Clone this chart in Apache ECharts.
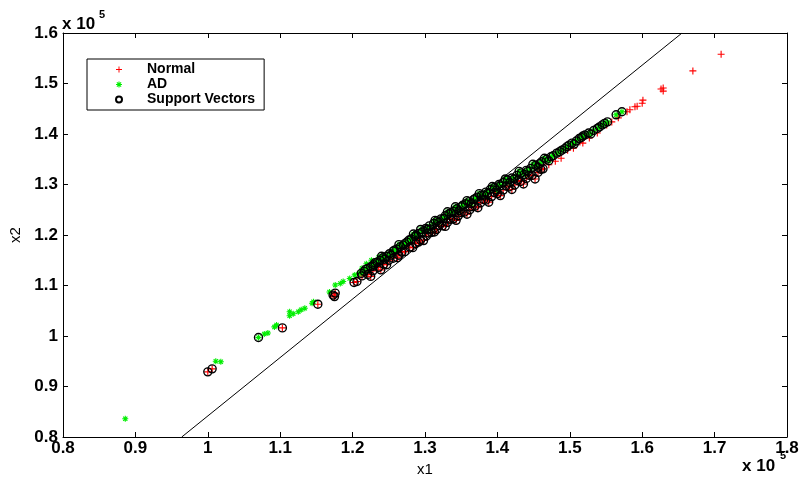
<!DOCTYPE html>
<html>
<head>
<meta charset="utf-8">
<script src="https://cdn.jsdelivr.net/npm/echarts@6/dist/echarts.min.js"></script>
<style>
  html, body { margin: 0; padding: 0; background: #fff; }
  #chart { width: 802px; height: 482px; }
</style>
</head>
<body>
<div id="chart"></div>
<script>
// Coordinates are in units of 10^5 (x1, x2).

// Normal samples that are support vectors
const normalSV = [
  [1.000,0.929],[1.006,0.935],[1.103,1.016],[1.152,1.063],[1.173,1.081],[1.176,1.085],
  [1.175,1.078],[1.202,1.106],[1.206,1.108],[1.213,1.119],
  [1.221,1.122],[1.228,1.129],[1.236,1.136],[1.243,1.142],[1.250,1.150],[1.256,1.154],
  [1.264,1.160],[1.272,1.167],[1.279,1.176],[1.287,1.183],[1.294,1.190],[1.302,1.198],
  [1.309,1.205],[1.316,1.211],[1.324,1.218],[1.331,1.225],[1.339,1.232],[1.346,1.238],
  [1.354,1.245],[1.362,1.250],[1.369,1.257],[1.377,1.264],[1.384,1.269],[1.392,1.276],
  [1.400,1.282],[1.408,1.289],[1.416,1.295],[1.424,1.299],[1.432,1.306],[1.440,1.312],
  [1.448,1.318],[1.456,1.324],[1.463,1.331],
  [1.225,1.118],[1.239,1.131],[1.247,1.141],[1.262,1.155],[1.268,1.166],[1.283,1.175],
  [1.291,1.186],[1.298,1.189],[1.305,1.204],[1.313,1.206],[1.320,1.219],[1.328,1.217],
  [1.335,1.231],[1.343,1.229],[1.350,1.244],[1.358,1.241],[1.365,1.256],[1.373,1.254],
  [1.381,1.270],[1.388,1.265],[1.396,1.284],[1.404,1.278],[1.412,1.297],[1.420,1.290],
  [1.428,1.308],[1.436,1.301],[1.444,1.318],[1.452,1.311],[1.460,1.330]
];

// Remaining Normal samples
const normalOther = [
  [1.471,1.339],[1.480,1.346],[1.488,1.352],[1.497,1.368],[1.505,1.372],[1.514,1.384],
  [1.518,1.382],[1.527,1.392],[1.538,1.402],[1.551,1.418],[1.558,1.424],[1.567,1.432],
  [1.579,1.444],[1.583,1.448],[1.590,1.454],[1.593,1.455],[1.600,1.461],[1.601,1.467],
  [1.626,1.489],[1.629,1.491],[1.629,1.485],[1.670,1.525],[1.709,1.558]
];

// AD samples that are support vectors
const adSV = [
  [1.070,0.997],
  [1.212,1.124],[1.216,1.128],[1.221,1.134],[1.225,1.137],[1.229,1.141],[1.234,1.146],
  [1.238,1.150],[1.242,1.155],[1.247,1.158],[1.251,1.163],[1.256,1.168],[1.261,1.172],
  [1.266,1.177],[1.270,1.180],[1.275,1.186],[1.281,1.192],[1.286,1.197],[1.291,1.203],
  [1.296,1.206],[1.301,1.213],[1.306,1.218],[1.312,1.223],[1.317,1.228],[1.322,1.232],
  [1.328,1.238],[1.333,1.242],[1.339,1.247],[1.344,1.252],[1.350,1.256],[1.356,1.262],
  [1.361,1.266],[1.367,1.270],[1.372,1.275],[1.378,1.279],[1.384,1.285],[1.390,1.290],
  [1.396,1.294],[1.402,1.300],[1.408,1.304],[1.414,1.309],[1.420,1.313],[1.427,1.318],
  [1.433,1.323],[1.440,1.328],[1.446,1.332],[1.453,1.338],[1.461,1.345],[1.468,1.350],
  [1.474,1.355],[1.482,1.362],[1.489,1.368],[1.496,1.375],[1.503,1.382],[1.509,1.386],
  [1.516,1.393],[1.521,1.398],[1.526,1.402],[1.533,1.407],[1.538,1.411],[1.545,1.418],
  [1.552,1.424],[1.564,1.438],[1.572,1.444],
  [1.218,1.132],[1.231,1.145],[1.244,1.152],[1.258,1.170],[1.272,1.183],[1.288,1.200],
  [1.303,1.211],[1.319,1.225],[1.336,1.244],[1.352,1.259],[1.369,1.272],[1.386,1.282],
  [1.404,1.297],[1.423,1.311],[1.442,1.326],[1.458,1.341],[1.477,1.357],[1.499,1.378],
  [1.518,1.396],[1.541,1.414],[1.548,1.421],
  [1.228,1.138],[1.240,1.158],[1.253,1.160],[1.264,1.181],[1.278,1.190],[1.284,1.202],
  [1.294,1.211],[1.308,1.212],[1.314,1.229],[1.326,1.233],[1.331,1.246],[1.342,1.256],
  [1.347,1.248],[1.358,1.268],[1.364,1.262],[1.375,1.282],[1.381,1.279],[1.393,1.296],
  [1.399,1.289],[1.411,1.311],[1.417,1.304],[1.430,1.326],[1.437,1.320],[1.449,1.340],
  [1.456,1.334],[1.465,1.352],[1.471,1.347],[1.486,1.365],[1.493,1.371],[1.506,1.380],
  [1.513,1.391],[1.529,1.400]
];

// Remaining AD samples
const adOther = [
  [0.886,0.836],[1.011,0.950],[1.018,0.949],[1.078,1.004],[1.083,1.006],[1.092,1.018],
  [1.095,1.022],[1.113,1.040],[1.113,1.048],[1.118,1.044],[1.125,1.048],[1.129,1.052],
  [1.134,1.055],[1.144,1.065],[1.146,1.068],[1.168,1.087],[1.176,1.101],[1.183,1.104],
  [1.187,1.108],[1.196,1.114],[1.203,1.121],[1.209,1.125],[1.213,1.134],[1.219,1.143],
  [1.226,1.150],[1.236,1.156]
];

// Separating line end points
const boundaryX = [0.964, 1.655];
const boundaryY = [0.8, 1.6];

// Axis ranges
const xRange = [0.8, 1.8];
const yRange = [0.8, 1.6];
const tickStep = 0.1;

const PLUS = 'path://M-0.16,-1H0.16V-0.16H1V0.16H0.16V1H-0.16V0.16H-1V-0.16H-0.16Z';
const STAR = 'path://M-0.18,-1H0.18V-0.18H1V0.18H0.18V1H-0.18V0.18H-1V-0.18H-0.18Z' +
  'M-0.83,-0.58L-0.58,-0.83L0,-0.25L0.58,-0.83L0.83,-0.58L0.25,0L0.83,0.58L0.58,0.83L0,0.25L-0.58,0.83L-0.83,0.58L-0.25,0Z';

const FONT = '"Liberation Sans", Arial, Helvetica, sans-serif';
const fmt = v => String(Math.round(v * 10) / 10);

const tickAxis = (extra) => Object.assign({
  type: 'value',
  interval: tickStep,
  axisLine: { show: true, onZero: false, lineStyle: { color: '#000', width: 1 } },
  axisTick: { show: true, inside: true, length: 5, lineStyle: { color: '#000' } },
  splitLine: { show: false }
}, extra);

const chart = echarts.init(document.getElementById('chart'), null, { renderer: 'canvas' });

chart.setOption({
  animation: false,
  backgroundColor: '#fff',
  grid: { left: 63, right: 15, top: 33, bottom: 45 },
  legend: {
    orient: 'vertical',
    left: 87,
    top: 59,
    padding: [3, 9, 3, 28],
    itemWidth: 46,
    itemHeight: 6,
    itemGap: 0,
    backgroundColor: '#fff',
    borderColor: '#000',
    borderWidth: 1,
    borderRadius: 0,
    textStyle: { fontFamily: FONT, fontWeight: 'bold', fontSize: 14, color: '#000', lineHeight: 15 },
    data: ['Normal', 'AD', 'Support Vectors']
  },
  xAxis: [
    tickAxis({
      position: 'bottom', min: xRange[0], max: xRange[1],
      name: 'x1', nameLocation: 'middle', nameGap: 22,
      nameTextStyle: { fontFamily: FONT, fontSize: 15, color: '#000' },
      axisLabel: { margin: 3, formatter: fmt, fontFamily: FONT, fontWeight: 'bold', fontSize: 17, color: '#000' }
    }),
    tickAxis({ position: 'top', min: xRange[0], max: xRange[1], axisLabel: { show: false } })
  ],
  yAxis: [
    tickAxis({
      position: 'left', min: yRange[0], max: yRange[1],
      name: 'x2', nameLocation: 'middle', nameGap: 35,
      nameTextStyle: { fontFamily: FONT, fontSize: 15, color: '#000' },
      axisLabel: { margin: 5, formatter: fmt, fontFamily: FONT, fontWeight: 'bold', fontSize: 17, color: '#000' }
    }),
    tickAxis({ position: 'right', min: yRange[0], max: yRange[1], axisLabel: { show: false } })
  ],
  series: [
    {
      name: 'Normal', type: 'scatter',
      symbol: PLUS, symbolSize: 7,
      itemStyle: { color: '#ff0000', opacity: 1 },
      data: normalSV.concat(normalOther), z: 2
    },
    {
      name: 'AD', type: 'scatter',
      symbol: STAR, symbolSize: 6,
      itemStyle: { color: '#00ee00', opacity: 1 },
      data: adSV.concat(adOther), z: 3
    },
    {
      name: 'Support Vectors', type: 'scatter',
      symbol: 'circle', symbolSize: 8,
      itemStyle: { color: 'rgba(0,0,0,0)', borderColor: '#000', borderWidth: 1.4, opacity: 1 },
      data: normalSV.concat(adSV), z: 4
    },
    {
      type: 'line', silent: true,
      symbol: 'none',
      lineStyle: { color: '#000', width: 1 },
      data: boundaryX.map((x, i) => [x, boundaryY[i]]), z: 5
    }
  ],
  graphic: [
    { type: 'text', left: 62, top: 16, style: { text: 'x 10', font: 'bold 17px ' + FONT, fill: '#000' } },
    { type: 'text', left: 99, top: 9, style: { text: '5', font: 'bold 11px ' + FONT, fill: '#000' } },
    { type: 'text', left: 742, top: 458, style: { text: 'x 10', font: 'bold 17px ' + FONT, fill: '#000' } },
    { type: 'text', left: 780, top: 450, style: { text: '5', font: 'bold 11px ' + FONT, fill: '#000' } }
  ]
});
</script>
</body>
</html>
